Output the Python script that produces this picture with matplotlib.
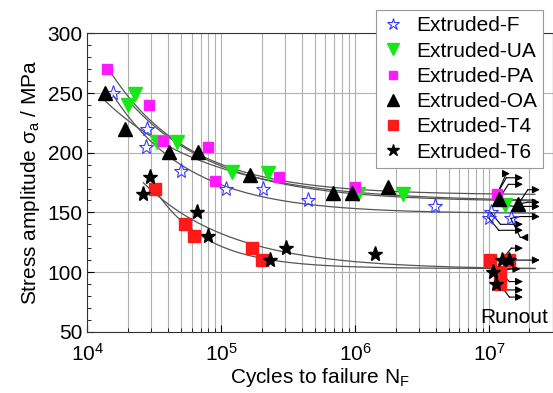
import numpy as np
import matplotlib.pyplot as plt
from matplotlib.ticker import LogLocator, MultipleLocator, NullFormatter

plt.rcParams['font.family'] = ['Liberation Sans', 'DejaVu Sans']
plt.rcParams['mathtext.fontset'] = 'custom'
plt.rcParams['mathtext.rm'] = 'Liberation Sans'
plt.rcParams['mathtext.it'] = 'Liberation Sans'
plt.rcParams['mathtext.default'] = 'regular'

# Data (cycles, stress amplitude MPa)
f_n = [1.56e4, 2.8e4, 2.74e4, 4.98e4, 1.08e5, 2.04e5, 4.46e5, 3.93e6, 1.03e7, 1.0e7, 1.45e7]
f_s = [250, 220, 205, 185, 170, 170, 160, 155, 150, 145, 145]

ua_n = [2.27e4, 2.02e4, 3.3e4, 4.7e4, 1.2e5, 2.24e5, 1.05e6, 2.28e6, 1.31e7]
ua_s = [249, 240, 209, 209, 184, 183, 165, 165, 156]

pa_n = [1.4e4, 2.9e4, 3.69e4, 8.0e4, 8.98e4, 2.71e5, 1.0e6, 1.14e7]
pa_s = [270, 240, 210, 205, 176, 180, 171, 165]

oa_n = [1.36e4, 1.91e4, 4.09e4, 6.73e4, 1.64e5, 6.78e5, 9.4e5, 1.76e6, 1.18e7, 1.65e7]
oa_s = [250, 220, 201, 201, 181, 166, 166, 171, 161, 157]

t4_n = [3.2e4, 5.36e4, 6.25e4, 1.69e5, 2.0e5, 1.01e7, 1.41e7, 1.2e7, 1.2e7]
t4_s = [170, 140, 130, 120, 110, 110, 110, 100, 90]

t6_n = [2.94e4, 2.62e4, 6.55e4, 8.0e4, 2.31e5, 3.04e5, 1.4e6, 1.24e7, 1.41e7, 1.07e7, 1.12e7]
t6_s = [180, 165, 150, 130, 110, 120, 115, 110, 110, 100, 90]

# runout arrows: start point, end level, tip position
arr_x0 = [1.14e7, 1.14e7, 1.18e7, 1.65e7, 1.65e7, 1.31e7, 1.45e7, 1.03e7, 1.0e7, 1.45e7,
          1.24e7, 1.01e7, 1.2e7, 1.2e7, 1.12e7, 1.2e7]
arr_y0 = [165, 165, 161, 157, 157, 156, 145, 150, 145, 145,
          110, 110, 100, 100, 90, 90]
arr_y1 = [182.5, 179, 173.5, 169, 158.5, 155, 146.5, 140, 135, 129,
          120, 110, 102.5, 92, 85, 79]
arr_tip = [1.43e7, 1.79e7, 1.79e7, 2.39e7, 2.39e7, 2.39e7, 2.39e7, 1.79e7, 1.79e7, 1.71e7,
           1.79e7, 2.39e7, 1.71e7, 1.79e7, 1.79e7, 1.79e7]


def fit_curve(n, s):
    # s = s_inf + a * n^-b, grid over b
    n = np.asarray(n)
    s = np.asarray(s, float)
    best = None
    for b in np.linspace(0.1, 1.5, 141):
        A = np.column_stack([np.ones_like(n), n ** (-b)])
        coef, res, _, _ = np.linalg.lstsq(A, s, rcond=None)
        err = np.sum((A @ coef - s) ** 2)
        if best is None or err < best[0]:
            best = (err, coef, b)
    return best[1], best[2]


fig = plt.figure(figsize=(5.53, 3.93), dpi=100)
ax = fig.add_axes([0.158, 0.156, 0.842, 0.759])

series = [
    ("Extruded-F", f_n, f_s, dict(marker='*', mfc='none', mec='#3a3aff', ms=11, mew=0.8)),
    ("Extruded-UA", ua_n, ua_s, dict(marker='v', mfc='#19e619', mec='#19e619', ms=10)),
    ("Extruded-PA", pa_n, pa_s, dict(marker='s', mfc='#ff19ff', mec='#ff19ff', ms=7.5)),
    ("Extruded-OA", oa_n, oa_s, dict(marker='^', mfc='black', mec='black', ms=10)),
    ("Extruded-T4", t4_n, t4_s, dict(marker='s', mfc='#ff1a1a', mec='#ff1a1a', ms=8)),
    ("Extruded-T6", t6_n, t6_s, dict(marker='*', mfc='black', mec='black', ms=11)),
]

# fitted curves
for label, n, s, st in series:
    coef, b = fit_curve(n, s)
    xx = np.logspace(np.log10(min(n)), np.log10(2.2e7), 200)
    ax.plot(xx, coef[0] + coef[1] * xx ** (-b), color='#555555', lw=0.9, zorder=2)

# runout arrows
for x0, y0, y1, tip in zip(arr_x0, arr_y0, arr_y1, arr_tip):
    bend = x0 * 1.18
    ax.plot([x0, bend], [y0, y1], color='black', lw=0.8, zorder=2)
    ax.annotate('', xy=(tip, y1), xytext=(bend, y1),
                arrowprops=dict(arrowstyle='-|>', color='black', lw=0.8,
                                mutation_scale=11, shrinkA=0, shrinkB=0), zorder=2)

for label, n, s, st in series:
    ax.plot(n, s, ls='none', label=label, zorder=3, **st)

ax.set_xscale('log')
ax.set_xlim(1e4, 3e7)
ax.set_ylim(50, 300)
ax.xaxis.set_major_locator(LogLocator(base=10, numticks=10))
ax.xaxis.set_minor_locator(LogLocator(base=10, subs=np.arange(2, 10), numticks=20))
ax.xaxis.set_minor_formatter(NullFormatter())
ax.yaxis.set_major_locator(MultipleLocator(50))
ax.yaxis.set_minor_locator(MultipleLocator(10))

ax.grid(True, which='major', color='#b0b0b0', lw=0.8)
ax.grid(True, which='minor', axis='x', color='#b0b0b0', lw=0.8)
ax.set_axisbelow(True)

ax.tick_params(which='both', direction='in', labelsize=15, top=False, right=False)
ax.tick_params(which='major', length=5)
ax.tick_params(which='minor', length=3)
ax.tick_params(axis='x', which='major', pad=8)
for sp in ax.spines.values():
    sp.set_color('#333333')

ax.set_xlabel('Cycles to failure N$_F$', fontsize=15, labelpad=1)
ax.set_ylabel('Stress amplitude σ$_a$ / MPa', fontsize=15, labelpad=4)

ax.text(1.55e7, 62, 'Runout', fontsize=15, ha='center', va='center')

leg = ax.legend(loc='upper right', bbox_to_anchor=(0.9785, 1.078), borderaxespad=0,
                fontsize=15, frameon=True, fancybox=False, framealpha=1,
                edgecolor='#999999', handlelength=1.0, handletextpad=0.6,
                labelspacing=0.3, borderpad=0.3, markerscale=0.85)
leg.get_frame().set_linewidth(0.8)

fig.savefig('out.png', dpi=100)
